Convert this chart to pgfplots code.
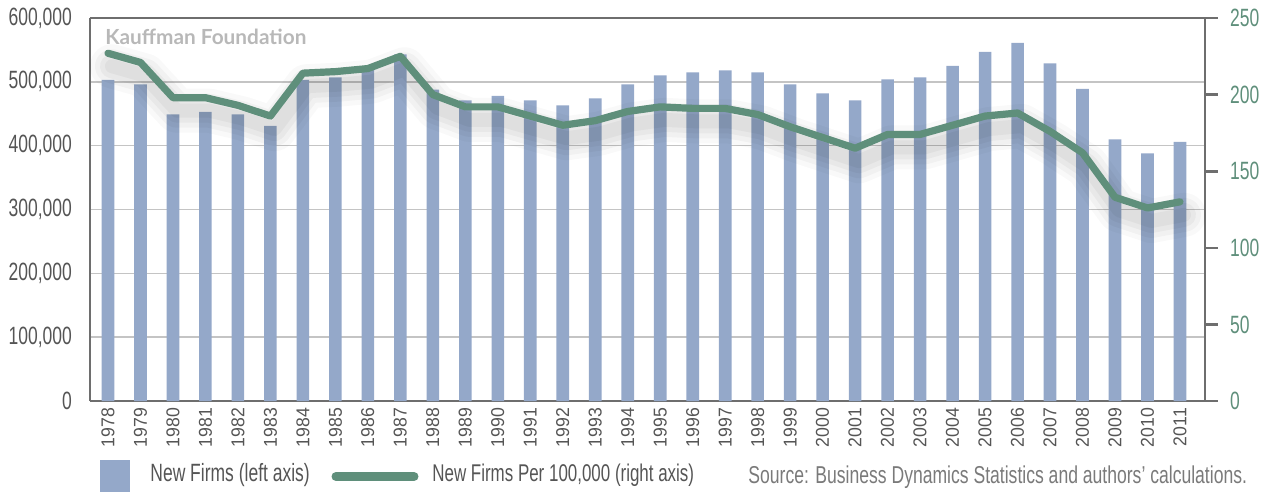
\documentclass[border=0pt]{standalone}
\usepackage{pgfplots}
\usepackage{pgfplotstable}
\pgfplotsset{compat=1.18}
\usepackage{fontspec}
\setmainfont{Liberation Sans}
\newfontfamily\condfont{Liberation Sans}[FakeStretch=0.7]
\newfontfamily\srcfont{Liberation Sans}[FakeStretch=0.72]
\newfontfamily\yearfont{Liberation Sans}[FakeStretch=0.95]
\newfontfamily\kfont{Lato}
\definecolor{barblue}{HTML}{94A8C9}
\definecolor{linegreen}{HTML}{5F8F7B}
\definecolor{axgray}{HTML}{6E6E6E}
\definecolor{gridgray}{HTML}{C4C4C4}
\definecolor{txtgray}{HTML}{555555}
\definecolor{srcgray}{HTML}{7A7A7A}
\definecolor{kgray}{HTML}{B8B8B8}

\pgfplotstableread{
year firms
1978 503000
1979 496000
1980 449000
1981 453000
1982 449000
1983 431000
1984 503000
1985 507000
1986 519000
1987 543000
1988 488000
1989 471000
1990 478000
1991 471000
1992 463000
1993 474000
1994 496000
1995 510000
1996 515000
1997 518000
1998 515000
1999 496000
2000 482000
2001 471000
2002 504000
2003 507000
2004 525000
2005 547000
2006 561000
2007 529000
2008 489000
2009 410000
2010 388000
2011 406000
}\firms

\pgfplotstableread{
year rate
1978 227
1979 221
1980 198
1981 198
1982 193
1983 186
1984 214
1985 215
1986 217
1987 225
1988 200
1989 192
1990 192
1991 186
1992 180
1993 183
1994 189
1995 192
1996 191
1997 191
1998 187
1999 179
2000 172
2001 165
2002 174
2003 174
2004 180
2005 186
2006 188
2007 176
2008 162
2009 133
2010 126
2011 130
}\rate

\begin{document}
\begin{tikzpicture}
\useasboundingbox (-45pt,-47pt) rectangle (590.5pt,200.5pt);
\begin{axis}[
  at={(0,0)}, anchor=south west, scale only axis,
  width=557.5pt, height=191.5pt,
  xmin=1977.446, xmax=2011.77, ymin=0, ymax=600000,
  axis y line*=left, axis x line*=box,
  axis line style={draw=axgray, line width=1.3pt},
  scaled y ticks=false, scaled x ticks=false,
  ytick={0,100000,200000,300000,400000,500000,600000},
  yticklabels={0,{100,000},{200,000},{300,000},{400,000},{500,000},{600,000}},
  yticklabel style={font=\condfont\fontsize{12.5}{12.5}\selectfont, text=txtgray, xshift=-5.5pt},
  ymajorgrids, grid style={draw=gridgray, line width=0.8pt},
  major tick length=0pt,
  xtick={1978,...,2011},
  xticklabel style={rotate=90, anchor=east, font=\yearfont\fontsize{9.3}{9.3}\selectfont, text=txtgray, /pgf/number format/1000 sep={}},
  /pgf/number format/assume math mode=true,
]
\addplot[ybar, bar width=6.3pt, fill=barblue, draw=none] table[x=year,y=firms]{\firms};
\end{axis}
\begin{axis}[
  at={(0,0)}, anchor=south west, scale only axis,
  width=557.5pt, height=191.5pt,
  xmin=1977.446, xmax=2011.77, ymin=0, ymax=250,
  axis y line*=right, axis x line=none,
  axis line style={draw=axgray, line width=1.3pt},
  ytick={0,50,100,150,200,250},
  tick align=outside, major tick length=6.5pt,
  tick style={draw=axgray, line width=1.3pt},
  yticklabel style={font=\condfont\fontsize{12.5}{12.5}\selectfont, text=linegreen, xshift=2.5pt},
  /pgf/number format/assume math mode=true,
  clip=false,
]
\addplot[black, opacity=0.025, line width=22pt, line join=round, line cap=round, xshift=2pt, yshift=-6.5pt] table[x=year,y=rate]{\rate};
\addplot[black, opacity=0.03, line width=17pt, line join=round, line cap=round, xshift=2pt, yshift=-6.5pt] table[x=year,y=rate]{\rate};
\addplot[black, opacity=0.035, line width=12pt, line join=round, line cap=round, xshift=2pt, yshift=-6.5pt] table[x=year,y=rate]{\rate};
\addplot[black, opacity=0.04, line width=7pt, line join=round, line cap=round, xshift=2pt, yshift=-6.5pt] table[x=year,y=rate]{\rate};
\addplot[linegreen, line width=3.6pt, line join=round, line cap=round] table[x=year,y=rate]{\rate};
\end{axis}
\node[anchor=west, inner sep=0, text=kgray, font=\kfont\bfseries\fontsize{10.4}{10.4}\selectfont] at (7.5pt,182pt) {Kauffman Foundation};
\fill[barblue] (5pt,-45.5pt) rectangle (20pt,-29.5pt);
\node[anchor=west, inner sep=0, text=txtgray, font=\condfont\fontsize{12.5}{12.5}\selectfont] at (30pt,-37pt) {New Firms (left axis)};
\draw[linegreen, line width=4.5pt, line cap=round] (123pt,-37.75pt) -- (162pt,-37.75pt);
\node[anchor=west, inner sep=0, text=txtgray, font=\condfont\fontsize{12.1}{12.1}\selectfont] at (171pt,-37pt) {New Firms Per 100,000 (right axis)};
\node[anchor=west, inner sep=0, text=srcgray, font=\srcfont\fontsize{12.2}{12.2}\selectfont] at (329pt,-38pt) {Source: Business Dynamics Statistics and authors’ calculations.};
\end{tikzpicture}
\end{document}
